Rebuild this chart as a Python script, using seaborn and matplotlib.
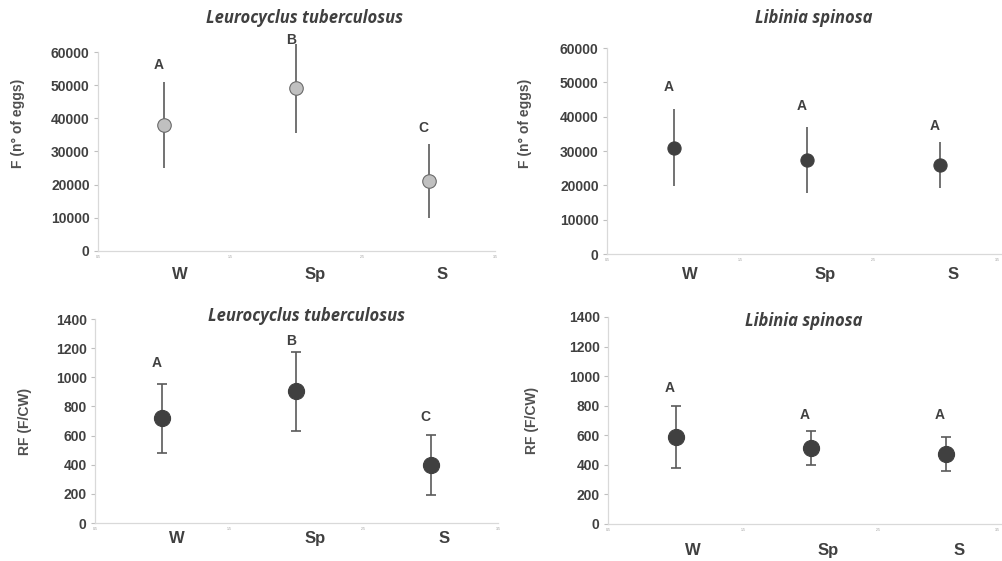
import matplotlib
matplotlib.use("Agg")
import matplotlib.pyplot as plt
import seaborn as sns
import pandas as pd
import numpy as np

sns.set_style("white")
plt.rcParams['font.family'] = ['Liberation Sans', 'DejaVu Sans']

seasons = ["W", "Sp", "S"]
xtick_vals = [0.5, 1.5, 2.5, 3.5]

# Top-left: fecundity, Leurocyclus tuberculosus
f_leu_mean = [38000, 49000, 21000]
f_leu_sd = [13000, 13400, 11200]
f_leu_letters = ["A", "B", "C"]
f_leu_letter_y = [56100, 63700, 37100]

# Top-right: fecundity, Libinia spinosa
f_lib_mean = [31000, 27400, 25900]
f_lib_sd = [11200, 9600, 6700]
f_lib_letters = ["A", "A", "A"]
f_lib_letter_y = [48600, 43100, 37300]

# Bottom-left: relative fecundity, Leurocyclus tuberculosus
rf_leu_mean = [720, 905, 400]
rf_leu_sd = [237, 270, 207]
rf_leu_letters = ["A", "B", "C"]
rf_leu_letter_y = [1098, 1249, 727]

# Bottom-right: relative fecundity, Libinia spinosa
rf_lib_mean = [588, 514, 473]
rf_lib_sd = [207, 118, 115]
rf_lib_letters = ["A", "A", "A"]
rf_lib_letter_y = [920, 737, 737]

TXT = "#404040"
BAR = "#5a5a5a"

fig = plt.figure(figsize=(10.03, 5.61), dpi=100)

panels = [
    dict(rect=[0.0977, 0.5526, 0.3958, 0.3547], mean=f_leu_mean, sd=f_leu_sd,
         letters=f_leu_letters, ly=f_leu_letter_y, title="Leurocyclus tuberculosus",
         ylabel="F (n° of eggs)", ymax=60000, ystep=10000, face="#c0c0c0", edge="#6a6a6a",
         s=95, caps=0, tpos=(0.521, 1.171), ylpos=(-0.184, 0.643), cat_dy=-24,
         cat_dx=[0.12, 0.14, 0.10], at_edge=False),
    dict(rect=[0.6052, 0.5472, 0.3980, 0.3672], mean=f_lib_mean, sd=f_lib_sd,
         letters=f_lib_letters, ly=f_lib_letter_y, title="Libinia spinosa",
         ylabel="F (n° of eggs)", ymax=60000, ystep=10000, face="#404040", edge="#404040",
         s=90, caps=0, tpos=(0.519, 1.146), ylpos=(-0.188, 0.636), cat_dy=-20,
         cat_dx=[0.12, 0.14, 0.10], at_edge=True),
    dict(rect=[0.0947, 0.0677, 0.4018, 0.3636], mean=rf_leu_mean, sd=rf_leu_sd,
         letters=rf_leu_letters, ly=rf_leu_letter_y, title="Leurocyclus tuberculosus",
         ylabel="RF (F/CW)", ymax=1400, ystep=200, face="#404040", edge="#404040",
         s=135, caps=3.6, tpos=(0.526, 1.015), ylpos=(-0.156, 0.5), cat_dy=-15,
         cat_dx=[0.11, 0.14, 0.10], at_edge=False),
    dict(rect=[0.6062, 0.0660, 0.4038, 0.3690], mean=rf_lib_mean, sd=rf_lib_sd,
         letters=rf_lib_letters, ly=rf_lib_letter_y, title="Libinia spinosa",
         ylabel="RF (F/CW)", ymax=1400, ystep=200, face="#404040", edge="#404040",
         s=135, caps=3.6, tpos=(0.484, 0.981), ylpos=(-0.170, 0.498), cat_dy=-27,
         cat_dx=[0.13, 0.13, 0.10], at_edge=True),
]

for p in panels:
    ax = fig.add_axes(p["rect"])
    xs = np.arange(1, len(seasons) + 1)
    df = pd.DataFrame({"x": xs, "mean": p["mean"], "sd": p["sd"], "season": seasons})
    eb = ax.errorbar(df["x"], df["mean"], yerr=df["sd"], fmt="none", ecolor=BAR,
                     elinewidth=1.2, capsize=p["caps"], capthick=1.2, zorder=2)
    for child in eb.lines[1] + eb.lines[2]:
        child.set_clip_on(False)
    sns.scatterplot(data=df, x="x", y="mean", ax=ax, s=p["s"], color=p["face"],
                    edgecolor=p["edge"], linewidth=0.8, zorder=3, legend=False)
    ax.set_xlim(0.5, 3.5)
    ax.set_ylim(0, p["ymax"])
    ax.set_yticks(np.arange(0, p["ymax"] + 1, p["ystep"]))
    ax.set_yticklabels([f"{int(v)}" for v in np.arange(0, p["ymax"] + 1, p["ystep"])],
                       fontsize=10, fontweight="bold", color=TXT)
    ticks = xtick_vals[:-1] if p["at_edge"] else xtick_vals
    ax.set_xticks(ticks)
    ax.set_xticklabels([f"{v}" for v in ticks], fontsize=2.5, color="#999999")
    if p["at_edge"]:
        ax.annotate(f"{xtick_vals[-1]}", xy=(0.997, 0),
                    xycoords=("figure fraction", "axes fraction"), xytext=(0, -4),
                    textcoords="offset pixels", ha="right", va="top", fontsize=2.5,
                    color="#999999", annotation_clip=False)
    ax.tick_params(axis="x", length=0, pad=3)
    ax.tick_params(axis="y", length=3, width=0.8, color="#bfbfbf", pad=3, left=True)
    for side in ["top", "right"]:
        ax.spines[side].set_visible(False)
    for side in ["left", "bottom"]:
        ax.spines[side].set_color("#d9d9d9")
        ax.spines[side].set_linewidth(0.9)
    ax.set_xlabel("")
    ax.set_ylabel(p["ylabel"], fontsize=10, fontweight="bold", color="#505050")
    ax.yaxis.set_label_coords(*p["ylpos"])
    ax.text(p["tpos"][0], p["tpos"][1], p["title"], transform=ax.transAxes,
            ha="center", va="center", fontsize=12, fontweight="bold", style="italic",
            family=["Open Sans", "DejaVu Sans"], color=TXT)
    for i, (lt, y) in enumerate(zip(p["letters"], p["ly"])):
        ax.text(xs[i] - 0.04, y, lt, ha="center", va="center", fontsize=10,
                fontweight="bold", color=TXT)
    for i, lab in enumerate(seasons):
        ax.annotate(lab, xy=(xs[i] + p["cat_dx"][i], 0), xycoords=("data", "axes fraction"),
                    xytext=(0, p["cat_dy"]), textcoords="offset pixels",
                    ha="center", va="center", fontsize=12, fontweight="bold", color=TXT,
                    annotation_clip=False)

fig.savefig("out.png", dpi=100)
